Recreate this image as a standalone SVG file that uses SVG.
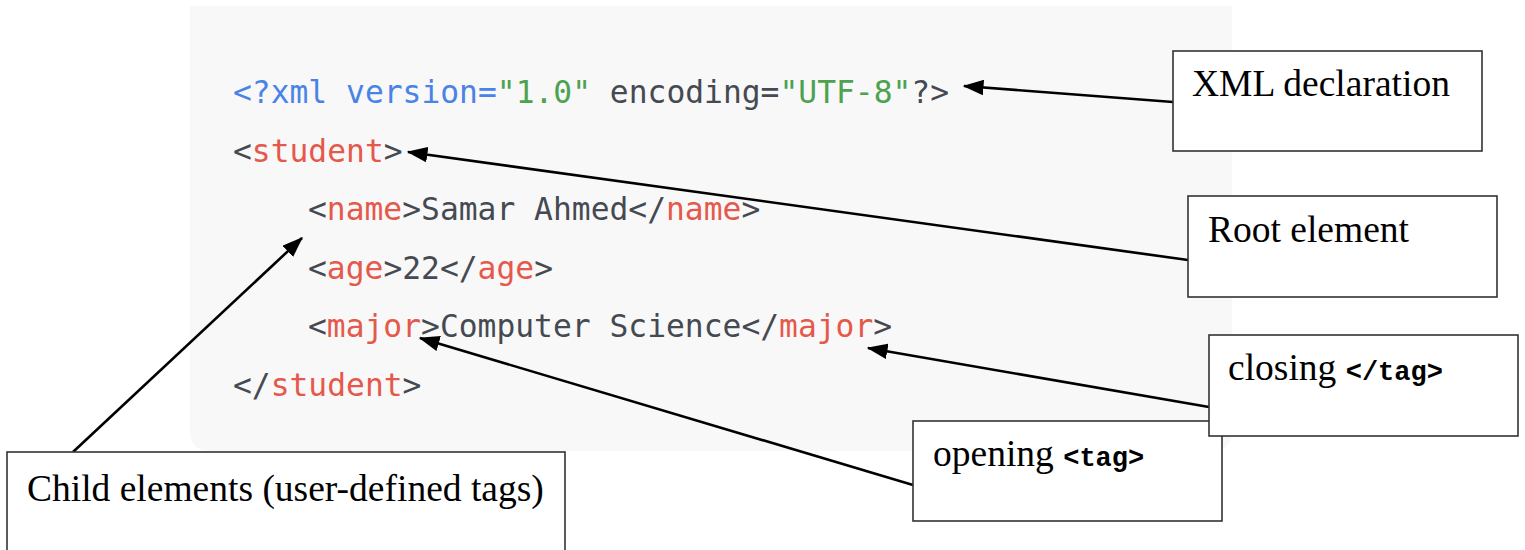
<svg xmlns="http://www.w3.org/2000/svg" width="1525" height="550" viewBox="0 0 1525 550">
<style>
.code{font-family:"DejaVu Sans Mono","Liberation Mono",monospace;font-size:31.3px;fill:#454a52}
.b{fill:#4a83e6}.g{fill:#4ca24e}.r{fill:#e5584c}
.box{fill:#ffffff;stroke:#333333;stroke-width:1.6}
.lbl{font-family:"Liberation Serif","Times New Roman",serif;font-size:37.5px;fill:#000}
.mono{font-family:"Liberation Mono","Courier New",monospace;font-weight:bold;font-size:27px}
.conn{stroke:#000;stroke-width:2.6;fill:none;marker-end:url(#ah)}
</style>
<defs>
<marker id="ah" markerWidth="8" markerHeight="6" refX="7.5" refY="3" orient="auto" markerUnits="strokeWidth">
<path d="M0,0 L8,3 L0,6 Z" fill="#000"/>
</marker>
</defs>
<rect width="1525" height="550" fill="#ffffff"/>
<g id="panel">
<path d="M190,6 H1232 V431 Q1232,451 1212,451 H210 Q190,451 190,431 Z" fill="#f8f8f8"/>
<text class="code" x="233" y="103"><tspan class="b">&lt;?xml version=</tspan><tspan class="g">"1.0"</tspan> encoding=<tspan class="g">"UTF-8"</tspan>?&gt;</text>
<text class="code" x="233" y="162">&lt;<tspan class="r">student</tspan>&gt;</text>
<text class="code" x="308" y="220">&lt;<tspan class="r">name</tspan>&gt;Samar Ahmed&lt;/<tspan class="r">name</tspan>&gt;</text>
<text class="code" x="308" y="279">&lt;<tspan class="r">age</tspan>&gt;22&lt;/<tspan class="r">age</tspan>&gt;</text>
<text class="code" x="308" y="337">&lt;<tspan class="r">major</tspan>&gt;Computer Science&lt;/<tspan class="r">major</tspan>&gt;</text>
<text class="code" x="233" y="396">&lt;/<tspan class="r">student</tspan>&gt;</text>
</g>
<g id="connectors">
<line class="conn" x1="1173" y1="102" x2="964" y2="86"/>
<line class="conn" x1="1188" y1="260" x2="408" y2="152"/>
<line class="conn" x1="73" y1="452" x2="302" y2="238"/>
<line class="conn" x1="913" y1="485" x2="420" y2="338"/>
<line class="conn" x1="1209" y1="407" x2="868" y2="348"/>
</g>
<g id="xml-declaration">
<rect class="box" x="1173" y="51" width="309" height="100"/>
<text class="lbl" x="1192" y="96">XML declaration</text>
</g>
<g id="root-element">
<rect class="box" x="1188" y="196" width="309" height="101"/>
<text class="lbl" x="1208" y="242">Root element</text>
</g>
<g id="opening-tag">
<rect class="box" x="913" y="421" width="309" height="100"/>
<text class="lbl" x="933" y="466">opening <tspan class="mono">&lt;tag&gt;</tspan></text>
</g>
<g id="closing-tag">
<rect class="box" x="1209" y="335" width="309" height="101"/>
<text class="lbl" x="1228" y="380">closing <tspan class="mono">&lt;/tag&gt;</tspan></text>
</g>
<g id="child-elements">
<rect class="box" x="7" y="452" width="558" height="120"/>
<text class="lbl" x="27" y="501">Child elements (user-defined tags)</text>
</g>
</svg>
